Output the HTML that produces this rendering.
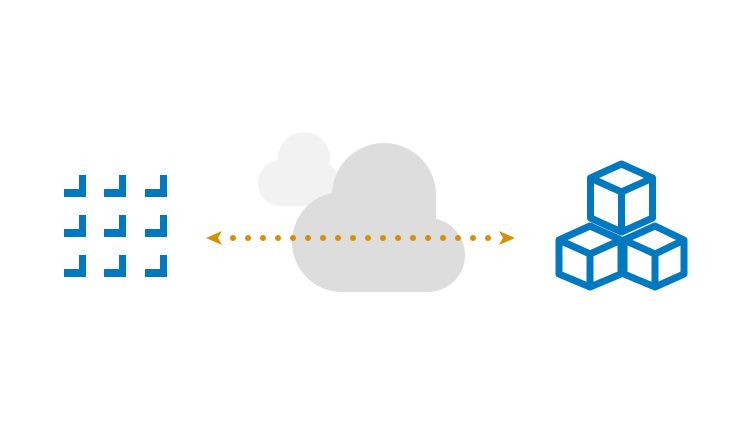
<!DOCTYPE html>
<html><head><style>html,body{margin:0;padding:0;background:#fff}</style></head>
<body>
<svg width="752" height="423" viewBox="0 0 752 423" xmlns="http://www.w3.org/2000/svg">
<rect width="752" height="423" fill="#fff"/>
<g fill="#0079c1">
<path id="L" d="M79 175h7v22h-22v-8h15z"/>
<use href="#L" x="40"/><use href="#L" x="81"/>
<use href="#L" y="40"/><use href="#L" x="40" y="40"/><use href="#L" x="81" y="40"/>
<use href="#L" y="80"/><use href="#L" x="40" y="80"/><use href="#L" x="81" y="80"/>
</g>
<g fill="#f2f2f2">
<circle cx="304" cy="158" r="26"/>
<circle cx="281" cy="183" r="23"/>
<circle cx="318" cy="184" r="22"/>
<rect x="281" y="165" width="37" height="41"/>
</g>
<g fill="#dddddd">
<circle cx="384" cy="195" r="52"/>
<circle cx="342" cy="242" r="50"/>
<circle cx="428" cy="255" r="37"/>
<rect x="342" y="218" width="86" height="74"/>
<rect x="342" y="195" width="94" height="60"/>
</g>
<g fill="#d89000">
<path d="M206 238l16-7-4 7 4 7z"/>
<path d="M515 238l-16-7 4 7-4 7z"/>
<g id="d"><circle cx="233" cy="238" r="3"/><circle cx="248" cy="238" r="3"/><circle cx="263" cy="238" r="3"/><circle cx="278" cy="238" r="3"/><circle cx="293" cy="238" r="3"/><circle cx="308" cy="238" r="3"/></g>
<use href="#d" x="90"/><use href="#d" x="180"/>
</g>
<g fill="#fff" stroke="#0079c1" stroke-width="7" stroke-linejoin="round">
<path d="M621.5 164l31 14v40l-31 14-31-14v-40z"/>
<path d="M590.5 178l31 14 31-14M621.5 192v40"/>
<path d="M590 226l31 14v34l-31 13-31-13v-34z"/>
<path d="M559 240l31 14 31-14M590 254v33"/>
<path d="M655 226l29 14v34l-29 13-31-13v-34z"/>
<path d="M624 240l31 14 29-14M655 254v33"/>
</g>
</svg>
</body></html>
